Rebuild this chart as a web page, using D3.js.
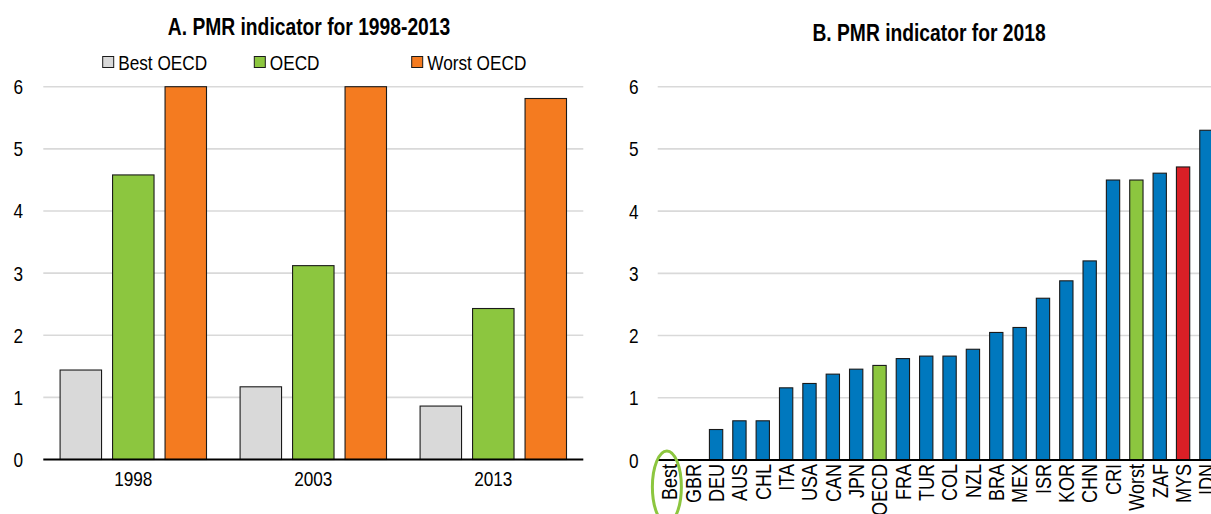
<!DOCTYPE html>
<html><head><meta charset="utf-8">
<script src="https://cdn.jsdelivr.net/npm/d3@7"></script>
<style>body{margin:0;background:#fff}svg{display:block}</style>
</head><body>
<svg id="chart" width="1211" height="514"></svg>
<script>
// Panel A: PMR indicator, 1998-2013
const years = ["1998", "2003", "2013"];
const seriesNames = ["Best OECD", "OECD", "Worst OECD"];
const bestOECD = [1.44, 1.17, 0.86];
const oecdAverage = [4.58, 3.12, 2.43];
const worstOECD = [6.00, 6.00, 5.81];

// Panel B: PMR indicator, 2018
const countries = ["Best", "GBR", "DEU", "AUS", "CHL", "ITA", "USA", "CAN", "JPN", "OECD",
  "FRA", "TUR", "COL", "NZL", "BRA", "MEX", "ISR", "KOR", "CHN", "CRI", "Worst", "ZAF", "MYS", "IDN"];
const pmr2018 = [0, 0, 0.49, 0.63, 0.63, 1.16, 1.23, 1.38, 1.46, 1.52,
  1.63, 1.67, 1.67, 1.78, 2.05, 2.13, 2.60, 2.88, 3.20, 4.50, 4.50, 4.61, 4.71, 5.30];
const greenBars = ["OECD", "Worst"];
const redBars = ["MYS"];

const yTicks = [0, 1, 2, 3, 4, 5, 6];

const seriesColors = ["#d9d9d9", "#8cc63f", "#f47b20"];
const blue = "#0078be", green = "#8cc63f", red = "#da1f26";

const svg = d3.select("#chart");
const FONT = "'Liberation Sans Narrow', 'Liberation Sans', Arial, sans-serif";

// Fall back to a squeezed regular face when no narrow face is installed
const probe = svg.append("text").attr("font-size", 20).text("Worst OECD 1998");
probe.attr("font-family", FONT);
const wNarrow = probe.node().getComputedTextLength();
probe.attr("font-family", "'Liberation Sans', Arial, sans-serif");
const wRegular = probe.node().getComputedTextLength();
probe.remove();
const SX = wNarrow < wRegular * 0.95 ? 1 : 0.82;

function label(g, x, y, str, size, anchor, weight, rot) {
  return g.append("text")
    .attr("transform", `translate(${x},${y})${rot ? ` rotate(${rot})` : ""} scale(${SX},1)`)
    .attr("font-family", FONT)
    .attr("font-size", size)
    .attr("font-weight", weight || "normal")
    .attr("text-anchor", anchor || "middle")
    .attr("fill", "#000")
    .text(str);
}

function styleAxis(g, xOff) {
  g.select(".domain").remove();
  g.selectAll(".tick line").remove();
  g.selectAll(".tick text")
    .attr("x", null).attr("dy", null)
    .attr("transform", `translate(${xOff},7) scale(${SX},1)`)
    .attr("text-anchor", "middle")
    .attr("font-family", FONT).attr("font-size", 21).attr("fill", "#000");
}

/* ---------- Panel A ---------- */
const A = { left: 43.3, right: 583.3, top: 86.7, zero: 459.5 };
const yA = d3.scaleLinear().domain([0, 6]).range([A.zero, A.top]);
const xA = d3.scaleBand().domain(years).range([A.left, A.right]).padding(0);
const xAInner = d3.scaleBand().domain(seriesNames).range([0, xA.bandwidth()])
  .paddingInner(0.21).paddingOuter(0.32);

const gA = svg.append("g");
gA.append("g").selectAll("line").data(yTicks.filter(d => d > 0)).join("line")
  .attr("x1", A.left).attr("x2", A.right)
  .attr("y1", d => yA(d)).attr("y2", d => yA(d))
  .attr("stroke", "#d9d9d9").attr("stroke-width", 1.6);

const seriesValues = [bestOECD, oecdAverage, worstOECD];
const groupsA = gA.append("g").selectAll("g").data(years).join("g")
  .attr("transform", d => `translate(${xA(d)},0)`);
groupsA.selectAll("rect")
  .data((yr, i) => seriesNames.map((s, k) => ({ s, k, v: seriesValues[k][i] })))
  .join("rect")
  .attr("x", d => xAInner(d.s))
  .attr("width", xAInner.bandwidth())
  .attr("y", d => yA(d.v))
  .attr("height", d => A.zero - yA(d.v))
  .attr("fill", d => seriesColors[d.k])
  .attr("stroke", "#1a1a1a").attr("stroke-width", 1.1);

gA.append("line").attr("x1", A.left).attr("x2", A.right)
  .attr("y1", A.zero).attr("y2", A.zero).attr("stroke", "#000").attr("stroke-width", 2);

const axA = gA.append("g").attr("transform", `translate(${A.left},0)`)
  .call(d3.axisLeft(yA).tickValues(yTicks).tickFormat(d3.format("d")));
styleAxis(axA, -25);

years.forEach(yr => label(gA, xA(yr) + xA.bandwidth() / 2, 486, yr, 21));

label(gA, 309, 35, "A. PMR indicator for 1998-2013", 23.5, "middle", "bold");

// Legend
const legendX = [102.7, 254.3, 411.7];
seriesNames.forEach((s, k) => {
  gA.append("rect").attr("x", legendX[k]).attr("y", 56.5).attr("width", 11).attr("height", 11)
    .attr("fill", seriesColors[k]).attr("stroke", "#1a1a1a").attr("stroke-width", 1);
  label(gA, legendX[k] + 15.5, 69.5, s, 21, "start");
});

/* ---------- Panel B ---------- */
const stepB = 23.35;
const B = { left: 657.7, top: 86.7, zero: 460 };
B.right = B.left + countries.length * stepB;
const yB = d3.scaleLinear().domain([0, 6]).range([B.zero, B.top]);
const xB = d3.scaleBand().domain(countries).range([B.left, B.right])
  .paddingInner(0.43).paddingOuter(0.215);

const gB = svg.append("g");
gB.append("g").selectAll("line").data(yTicks.filter(d => d > 0)).join("line")
  .attr("x1", B.left).attr("x2", 1211)
  .attr("y1", d => yB(d)).attr("y2", d => yB(d))
  .attr("stroke", "#d9d9d9").attr("stroke-width", 1.6);

gB.append("g").selectAll("rect").data(countries.map((c, i) => ({ c, v: pmr2018[i] })).filter(d => d.v > 0))
  .join("rect")
  .attr("x", d => xB(d.c))
  .attr("width", xB.bandwidth())
  .attr("y", d => yB(d.v))
  .attr("height", d => B.zero - yB(d.v))
  .attr("fill", d => greenBars.includes(d.c) ? green : redBars.includes(d.c) ? red : blue)
  .attr("stroke", "#1a1a1a").attr("stroke-width", 1.1);

gB.append("line").attr("x1", B.left).attr("x2", 1211)
  .attr("y1", B.zero).attr("y2", B.zero).attr("stroke", "#000").attr("stroke-width", 2);

const axB = gB.append("g").attr("transform", `translate(${B.left},0)`)
  .call(d3.axisLeft(yB).tickValues(yTicks).tickFormat(d3.format("d")));
styleAxis(axB, -24);

countries.forEach(c => label(gB, xB(c) + xB.bandwidth() / 2 + 7.8, 464, c, 22, "end", "normal", -90));

// Highlight ring around the "Best" label
gB.append("ellipse")
  .attr("cx", xB("Best") + xB.bandwidth() / 2 - 2.5).attr("cy", 487)
  .attr("rx", 14.5).attr("ry", 36)
  .attr("fill", "none").attr("stroke", green).attr("stroke-width", 3);

label(gB, 929, 41, "B. PMR indicator for 2018", 23.5, "middle", "bold");
</script>
</body></html>
